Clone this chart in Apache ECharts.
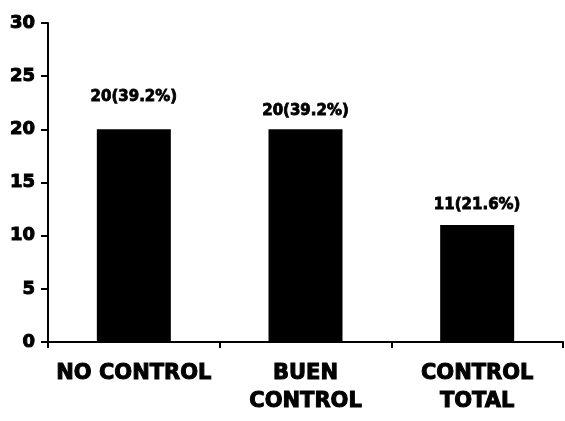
<!DOCTYPE html>
<html>
<head>
<meta charset="utf-8">
<script src="https://cdn.jsdelivr.net/npm/echarts@6/dist/echarts.min.js"></script>
<style>
  html, body { margin: 0; padding: 0; background: #fff; }
  #chart { width: 565px; height: 421px; }
</style>
</head>
<body>
<div id="chart"></div>
<script>
// Control categories, patient counts and their share of the total
const categories = ['NO CONTROL', 'BUEN\nCONTROL', 'CONTROL\nTOTAL'];
const counts = [20, 20, 11];
const percents = ['39.2%', '39.2%', '21.6%'];
const yTicks = { min: 0, max: 30, interval: 5 };

// Gap between each bar top and its value label
const labelGaps = [25, 11, 12];

const FONT = '"DejaVu Sans", sans-serif';
// Heavy black lettering: bold face plus a thin outline of the same colour
const heavyText = { color: '#000', fontFamily: FONT, fontWeight: 'bold', textBorderColor: '#000', textBorderWidth: 1 };

const chart = echarts.init(document.getElementById('chart'), null, { renderer: 'canvas' });

chart.setOption({
  animation: false,
  backgroundColor: '#ffffff',
  grid: { left: 48, right: 2, top: 23, bottom: 79 },
  xAxis: {
    type: 'category',
    data: categories,
    axisLine: { lineStyle: { color: '#000', width: 2 } },
    axisTick: { show: true, length: 6, lineStyle: { color: '#000', width: 2 } },
    axisLabel: Object.assign({}, heavyText, {
      fontSize: 21,
      lineHeight: 28,
      margin: 18,
      interval: 0
    })
  },
  yAxis: {
    type: 'value',
    min: yTicks.min,
    max: yTicks.max,
    interval: yTicks.interval,
    splitLine: { show: false },
    axisLine: { show: true, lineStyle: { color: '#000', width: 2 } },
    axisTick: { show: true, length: 7, lineStyle: { color: '#000', width: 2 } },
    axisLabel: Object.assign({}, heavyText, {
      fontSize: 18,
      margin: 13
    })
  },
  series: [{
    type: 'bar',
    barWidth: 74,
    data: counts.map((v, i) => ({
      value: v,
      label: {
        show: true,
        position: 'top',
        distance: labelGaps[i],
        formatter: v + '(' + percents[i] + ')'
      }
    })),
    itemStyle: { color: '#000' },
    label: Object.assign({}, heavyText, {
      fontSize: 15,
      textBorderWidth: 0.8
    })
  }]
});
</script>
</body>
</html>
